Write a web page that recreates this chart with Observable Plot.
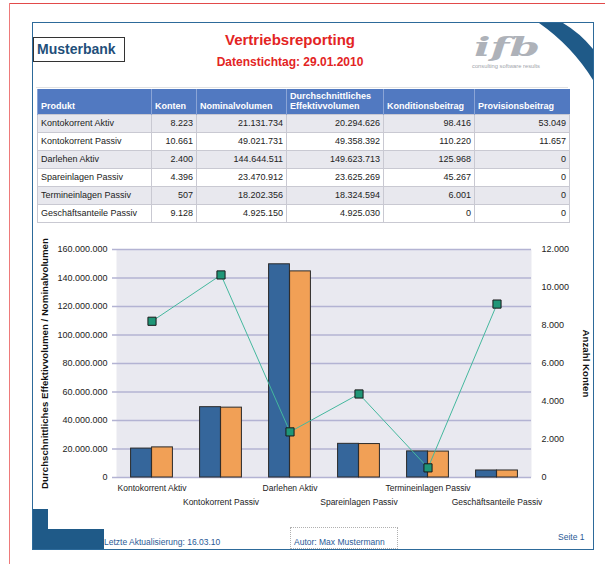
<!DOCTYPE html>
<html>
<head>
<meta charset="utf-8">
<script src="https://cdn.jsdelivr.net/npm/d3@7"></script>
<script src="https://cdn.jsdelivr.net/npm/@observablehq/plot@0.6"></script>
<style>
  html, body { margin: 0; padding: 0; background: #fff; }
  body { font-family: "Liberation Sans", Arial, sans-serif; }
  #page { position: relative; width: 605px; height: 564px; overflow: hidden; }
  .abs { position: absolute; }
  #tbl { position: absolute; left: 37px; top: 89px; border-collapse: collapse; font-size: 9px; color: #222; table-layout: fixed; }
  #tbl th { background: #5179c1; color: #fff; font-weight: bold; text-align: left; vertical-align: bottom;
            height: 25px; padding: 0 3px 3px 3px; border-left: 1px solid #8aa4d6; line-height: 10px; box-sizing: border-box; }
  #tbl td { height: 18px; padding: 0 3px; border: 1px solid #c9c9d2; box-sizing: border-box; white-space: nowrap; }
  #tbl td.num { text-align: right; }
  #tbl tr.odd td { background: #e8e8ee; }
  #chart { position: absolute; left: 28px; top: 228px; }
</style>
</head>
<body>
<div id="page">
  <!-- outer red page lines -->
  <div class="abs" style="left:9px;top:3px;width:596px;height:1px;background:#e24a4a;"></div>
  <div class="abs" style="left:9px;top:3px;width:1px;height:561px;background:#ee7a7a;"></div>
  <!-- report frame -->
  <div class="abs" style="left:32px;top:22px;width:560px;height:526px;border:1px solid #2d6a9a;"></div>
  <!-- top-right swoosh and logo -->
  <svg class="abs" style="left:0;top:0;" width="605" height="120">
    <path d="M539,23 L563,23 Q580,33 593,49 L593,80 Q572,46 539,23 Z" fill="#1f5a88"/>
    <text x="474" y="56" font-family="DejaVu Serif" font-weight="bold" font-style="italic" font-size="26"
          fill="#aeb2b9" textLength="66" lengthAdjust="spacingAndGlyphs">ifb</text>
    <text x="472" y="68" font-family="Liberation Sans" font-size="4.5" fill="#a0a4aa"
          textLength="68" lengthAdjust="spacingAndGlyphs">consulting software results</text>
  </svg>
  <!-- Musterbank box -->
  <div class="abs" style="left:33px;top:37px;width:87px;height:23px;border:1px solid #333;
       font-weight:bold;font-size:14px;line-height:23px;color:#1f4f7a;padding-left:3px;">Musterbank</div>
  <!-- titles -->
  <div id="title" class="abs" style="left:170px;top:31px;width:240px;text-align:center;font-size:15px;line-height:18px;font-weight:bold;color:#e32424;"></div>
  <div id="subtitle" class="abs" style="left:170px;top:55px;width:240px;text-align:center;font-size:12px;line-height:14px;font-weight:bold;color:#e32424;"></div>
  <div class="abs" style="left:36px;top:87px;width:532px;height:1px;background:#e2e2e2;"></div>
  <table id="tbl"></table>
  <div id="chart"></div>
  <!-- footer -->
  <div class="abs" style="left:33px;top:509px;width:15px;height:40px;background:#1f5a88;"></div>
  <div class="abs" style="left:33px;top:529px;width:71px;height:20px;background:#1f5a88;"></div>
  <div id="foot1" class="abs" style="left:104px;top:537px;font-size:8.5px;line-height:10px;color:#2a5a96;"></div>
  <div class="abs" style="left:290px;top:527px;width:106px;height:20px;border:1px dotted #b0b0b0;"></div>
  <div id="foot2" class="abs" style="left:294px;top:537px;font-size:8.5px;line-height:10px;color:#2a5a96;"></div>
  <div id="foot3" class="abs" style="left:558px;top:532px;font-size:8.5px;line-height:10px;color:#2a5a96;"></div>
</div>
<script>
// ---- data ----
const titleText = "Vertriebsreporting";
const subtitleText = "Datenstichtag:  29.01.2010";
const products = ["Kontokorrent Aktiv", "Kontokorrent Passiv", "Darlehen Aktiv", "Spareinlagen Passiv", "Termineinlagen Passiv", "Geschäftsanteile Passiv"];
const konten = [8223, 10661, 2400, 4396, 507, 9128];
const nominalvolumen = [21131734, 49021731, 144644511, 23470912, 18202356, 4925150];
const effektivvolumen = [20294626, 49358392, 149623713, 23625269, 18324594, 4925030];
const konditionsbeitrag = [98416, 110220, 125968, 45267, 6001, 0];
const provisionsbeitrag = [53049, 11657, 0, 0, 0, 0];
const headers = ["Produkt", "Konten", "Nominalvolumen", "Durchschnittliches<br>Effektivvolumen", "Konditionsbeitrag", "Provisionsbeitrag"];
const leftTicks = [0, 20000000, 40000000, 60000000, 80000000, 100000000, 120000000, 140000000, 160000000];
const rightTicks = [0, 2000, 4000, 6000, 8000, 10000, 12000];
const leftTitle = "Durchschnittliches Effektivvolumen / Nominalvolumen";
const rightTitle = "Anzahl Konten";
const footer = ["Letzte Aktualisierung: 16.03.10", "Autor: Max Mustermann", "Seite 1"];

// ---- formatting ----
const de = d3.formatLocale({decimal: ",", thousands: ".", grouping: [3], currency: ["", " €"]});
const fmt = de.format(",.0f");

document.getElementById("title").textContent = titleText;
document.getElementById("subtitle").textContent = subtitleText;
document.getElementById("foot1").textContent = footer[0];
document.getElementById("foot2").textContent = footer[1];
document.getElementById("foot3").textContent = footer[2];

// ---- table ----
const colWidths = [114, 45, 90, 97, 91, 95];
const tbl = document.getElementById("tbl");
let html = "<colgroup>" + colWidths.map(w => `<col style="width:${w}px">`).join("") + "</colgroup>";
html += "<tr>" + headers.map(h => `<th>${h}</th>`).join("") + "</tr>";
products.forEach((p, i) => {
  html += `<tr class="${i % 2 === 0 ? "odd" : "even"}"><td>${p}</td>` +
    [konten[i], nominalvolumen[i], effektivvolumen[i], konditionsbeitrag[i], provisionsbeitrag[i]]
      .map(v => `<td class="num">${fmt(v)}</td>`).join("") + "</tr>";
});
tbl.innerHTML = html;

// ---- chart ----
const rows = products.map((p, i) => ({product: p, konten: konten[i], nominal: nominalvolumen[i], effektiv: effektivvolumen[i]}));
const yMax = leftTicks[leftTicks.length - 1];
const kMax = rightTicks[rightTicks.length - 1];
const k = yMax / kMax;

const W = 565, H = 290, mL = 88, mR = 62, mT = 21, mB = 41;
const band = (W - mL - mR) / products.length;
const barW = 21;
const half = band / 2;

const gridColor = "#b3b3d3";
const chart = Plot.plot({
  width: W, height: H,
  marginLeft: mL, marginRight: mR, marginTop: mT, marginBottom: mB,
  style: {fontFamily: "Liberation Sans, Arial, sans-serif", fontSize: "9px", color: "#222", background: "transparent", overflow: "visible"},
  x: {domain: products, padding: 0},
  y: {domain: [0, yMax]},
  marks: [
    Plot.frame({fill: "#e9e9f0", stroke: null}),
    Plot.ruleY(leftTicks, {stroke: gridColor, strokeWidth: 1.4, insetLeft: -4}),
    Plot.barY(rows, {x: "product", y: "effektiv", fill: "#35669b", stroke: "#2a2a2a", strokeWidth: 1,
      insetLeft: half - barW, insetRight: half}),
    Plot.barY(rows, {x: "product", y: "nominal", fill: "#f1a056", stroke: "#2a2a2a", strokeWidth: 1,
      insetLeft: half, insetRight: half - barW}),
    Plot.line(rows, {x: "product", y: d => d.konten * k, stroke: "#45b89e", strokeWidth: 1}),
    Plot.dot(rows, {x: "product", y: d => d.konten * k, symbol: "square", r: 4.6, fill: "#1f9677", stroke: "#1a1a1a", strokeWidth: 1}),
    Plot.axisY(leftTicks, {anchor: "left", tickFormat: fmt, tickSize: 0, tickPadding: 9, label: null, fontSize: 9}),
    Plot.axisY(rightTicks.map(t => t * k), {anchor: "right", tickFormat: d => fmt(Math.round(d / k)), tickSize: 0, tickPadding: 10, label: null, fontSize: 9}),
    Plot.axisX(products.filter((p, i) => i % 2 === 0), {anchor: "bottom", tickSize: 0, tickPadding: 7, label: null, fontSize: 8.5}),
    Plot.axisX(products.filter((p, i) => i % 2 === 1), {anchor: "bottom", tickSize: 0, tickPadding: 21, label: null, fontSize: 8.5}),
    Plot.text([leftTitle], {text: d => d, frameAnchor: "left", textAnchor: "middle", rotate: -90, dx: -72, fontWeight: "bold", fontSize: 9.7, fill: "#111"}),
    Plot.text([rightTitle], {text: d => d, frameAnchor: "right", textAnchor: "middle", rotate: 90, dx: 55, fontWeight: "bold", fontSize: 9.7, fill: "#111"})
  ]
});
document.getElementById("chart").appendChild(chart);
</script>
</body>
</html>
